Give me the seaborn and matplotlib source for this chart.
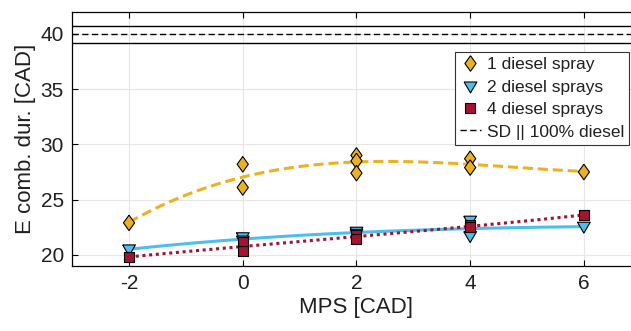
import numpy as np
import pandas as pd
import matplotlib
matplotlib.use("Agg")
import matplotlib.pyplot as plt
from matplotlib.lines import Line2D
import seaborn as sns

# values
mps_1 = [-2, 0, 0, 2, 2, 2, 4, 4, 6]
dur_1 = [22.9, 28.2, 26.1, 29.0, 28.5, 27.4, 28.7, 27.9, 27.5]

mps_2 = [-2, 0, 0, 2, 2, 4, 4, 6]
dur_2 = [20.5, 21.6, 21.3, 22.1, 21.9, 23.1, 21.7, 22.55]

mps_4 = [-2, 0, 0, 2, 2, 4, 4, 6]
dur_4 = [19.8, 21.2, 20.4, 21.8, 21.4, 22.75, 22.5, 23.6]

sd_mean = 40.0
sd_band = [39.2, 40.75]

labels = ["1 diesel spray", "2 diesel sprays", "4 diesel sprays"]
sd_label = "SD || 100% diesel"
colors = {"1 diesel spray": "#EDB120", "2 diesel sprays": "#4DBEEE",
          "4 diesel sprays": "#A2142F"}

diamond = np.array([(0, 1), (0.72, 0), (0, -1), (-0.72, 0), (0, 1)])
tri_down = np.array([(-1, 0.7), (1, 0.7), (0, -1), (-1, 0.7)])
square = np.array([(-1, -1), (1, -1), (1, 1), (-1, 1), (-1, -1)])
markers = {labels[0]: diamond, labels[1]: tri_down, labels[2]: square}
sizes = {labels[0]: 125, labels[1]: 85, labels[2]: 52}

df = pd.DataFrame({
    "MPS": mps_1 + mps_2 + mps_4,
    "dur": dur_1 + dur_2 + dur_4,
    "group": [labels[0]] * len(mps_1) + [labels[1]] * len(mps_2) + [labels[2]] * len(mps_4),
})

sns.set_style("ticks")
plt.rcParams["font.family"] = ["Liberation Sans", "DejaVu Sans"]
plt.rcParams["axes.unicode_minus"] = False

fig = plt.figure(figsize=(6.31, 3.31), dpi=100)
ax = fig.add_axes([0.1144, 0.1964, 0.901, 0.7683])

ax.grid(True, color="#e6e6e6", lw=0.8, zorder=0)
ax.set_axisbelow(True)

# SD reference lines
for v in sd_band:
    ax.axhline(v, color="k", lw=1.0, zorder=2)
ax.axhline(sd_mean, color="k", lw=1.0, linestyle=(0, (4.5, 2.5)), zorder=2)

# polynomial fits
styles = {labels[0]: (0, (3.3, 1.6)), labels[1]: "-", labels[2]: (0, (1, 1.2))}
for g in labels:
    sub = df[df["group"] == g]
    sns.regplot(data=sub, x="MPS", y="dur", order=3, ci=None, scatter=False,
                ax=ax, color=colors[g],
                line_kws={"lw": 2.2, "linestyle": styles[g], "zorder": 3})

sns.scatterplot(data=df, x="MPS", y="dur", hue="group", style="group",
                size="group", palette=colors, markers=markers, sizes=sizes,
                edgecolor="k", linewidth=0.8, legend=False, ax=ax, zorder=4)

ax.set_xlim(-3, 7)
ax.set_ylim(19, 42)
ax.set_xticks([-2, 0, 2, 4, 6])
ax.set_yticks([20, 25, 30, 35, 40])
ax.tick_params(direction="in", top=True, right=True, length=4, width=0.8,
               labelsize=15, pad=6, color="k", labelcolor="#202020")
for s in ax.spines.values():
    s.set_color("k")
    s.set_linewidth(0.9)
ax.set_xlabel("MPS [CAD]", fontsize=16, labelpad=3, color="#202020")
ax.set_ylabel("E comb. dur. [CAD]", fontsize=16, labelpad=3, color="#202020")

handles = [
    Line2D([], [], ls="none", marker=markers[g], markersize=np.sqrt(sizes[g]),
           markerfacecolor=colors[g], markeredgecolor="k", markeredgewidth=0.8)
    for g in labels
]
handles.append(Line2D([], [], color="k", lw=1.0, linestyle=(0, (4.5, 2.5))))
leg = ax.legend(handles, labels + [sd_label], loc="upper right",
                bbox_to_anchor=(0.98, 0.842), borderaxespad=0, fontsize=12.5,
                frameon=True, fancybox=False, framealpha=1, edgecolor="0.2",
                handlelength=1.2, handletextpad=0.35, borderpad=0.3,
                labelspacing=0.42)
leg.get_frame().set_linewidth(0.8)
for t in leg.get_texts():
    t.set_color("#202020")

fig.savefig("out.png", dpi=100)
